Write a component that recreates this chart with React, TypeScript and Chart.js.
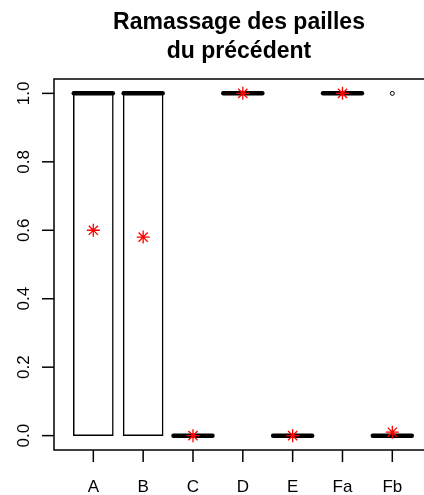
import { useEffect, useRef } from "react";
import { Chart, registerables } from "chart.js";

Chart.register(...registerables);

// Box plot summary per group (values are proportions between 0 and 1)
const groups = ["A", "B", "C", "D", "E", "Fa", "Fb"];
const lowerHinge = [0, 0, 0, 1, 0, 1, 0];
const upperHinge = [1, 1, 0, 1, 0, 1, 0];
const medians = [1, 1, 0, 1, 0, 1, 0];
const means = [0.6, 0.58, 0, 1, 0, 1, 0.01];
const outlierGroup = ["Fb"];
const outlierValue = [1];
const yTicks = [0, 0.2, 0.4, 0.6, 0.8, 1.0];
const yTickLabels = ["0.0", "0.2", "0.4", "0.6", "0.8", "1.0"];
const titleLines = ["Ramassage des pailles", "du précédent"];

const FONT = '"Liberation Sans", Arial, Helvetica, sans-serif';
const MEDIAN_DATASET = 1;

// Round ends on the thick median segments
const roundCapPlugin = {
  id: "roundCaps",
  beforeDatasetDraw(chart: any, args: any) {
    if (args.index === MEDIAN_DATASET) chart.ctx.lineCap = "round";
  },
  afterDatasetDraw(chart: any, args: any) {
    if (args.index === MEDIAN_DATASET) chart.ctx.lineCap = "butt";
  },
};

// Frame, tick marks and tick labels in the base-graphics style
const axesPlugin = {
  id: "baseAxes",
  afterDraw(chart: any) {
    const { ctx, chartArea } = chart;
    const xs = chart.scales.x;
    const ys = chart.scales.y;
    const { left, top, right, bottom } = chartArea;
    ctx.save();
    ctx.strokeStyle = "#000";
    ctx.lineWidth = 1.5;
    ctx.beginPath();
    ctx.moveTo(right + 2, top);
    ctx.lineTo(left, top);
    ctx.lineTo(left, bottom);
    ctx.lineTo(right + 2, bottom);
    ctx.stroke();

    ctx.fillStyle = "#000";
    ctx.font = `17px ${FONT}`;

    // y axis
    yTicks.forEach((v, i) => {
      const py = ys.getPixelForValue(v);
      ctx.beginPath();
      ctx.moveTo(left, py);
      ctx.lineTo(left - 12, py);
      ctx.stroke();
      ctx.save();
      ctx.translate(left - 30, py);
      ctx.rotate(-Math.PI / 2);
      ctx.textAlign = "center";
      ctx.textBaseline = "middle";
      ctx.fillText(yTickLabels[i], 0, 0);
      ctx.restore();
    });

    // x axis
    ctx.textAlign = "center";
    ctx.textBaseline = "middle";
    groups.forEach((g, i) => {
      const px = xs.getPixelForValue(i + 1);
      ctx.beginPath();
      ctx.moveTo(px, bottom);
      ctx.lineTo(px, bottom + 12);
      ctx.stroke();
      ctx.fillText(g, px, bottom + 37);
    });
    ctx.restore();
  },
};

export default function App() {
  const canvasRef = useRef<HTMLCanvasElement | null>(null);

  useEffect(() => {
    const canvas = canvasRef.current;
    if (!canvas) return;

    const boxData = groups.map((_, i) => ({ x: i + 1, y: [lowerHinge[i], upperHinge[i]] }));
    const medianData = groups.map((_, i) => ({ x: i + 1, y: medians[i] }));
    const meanData = groups.map((_, i) => ({ x: i + 1, y: means[i] }));
    const outlierData = outlierGroup.map((g, k) => ({ x: groups.indexOf(g) + 1, y: outlierValue[k] }));

    const chart = new Chart(canvas, {
      type: "bar",
      data: {
        datasets: [
          {
            type: "bar",
            data: boxData as any,
            backgroundColor: "#ffffff",
            borderColor: "#000000",
            borderWidth: 1.5,
            borderSkipped: false,
            barThickness: 40,
            order: 3,
          },
          {
            type: "scatter",
            data: medianData,
            pointStyle: "line",
            pointRadius: 19.5,
            borderWidth: 4.5,
            borderColor: "#000000",
            order: 2,
          },
          {
            type: "scatter",
            data: outlierData,
            pointStyle: "circle",
            pointRadius: 2,
            borderWidth: 1,
            borderColor: "#000000",
            backgroundColor: "rgba(0,0,0,0)",
            order: 1,
          },
          {
            type: "scatter",
            data: meanData,
            pointStyle: "star",
            pointRadius: 6.5,
            borderWidth: 1.3,
            borderColor: "#ff0000",
            order: 0,
          },
        ] as any,
      },
      options: {
        responsive: false,
        animation: false,
        devicePixelRatio: 1,
        layout: { autoPadding: false, padding: { left: 54, right: 0, top: 0, bottom: 45 } },
        scales: {
          x: { type: "linear", min: 0.211, max: 7.636, offset: false, display: false },
          y: { type: "linear", min: -0.042, max: 1.042, display: false },
        },
        plugins: {
          legend: { display: false },
          tooltip: { enabled: false },
          title: {
            display: true,
            text: titleLines,
            color: "#000",
            font: { family: FONT, size: 23, weight: "bold", lineHeight: 29 / 23 },
            padding: { top: 8.5, bottom: 12.5 },
          },
        },
      },
      plugins: [roundCapPlugin, axesPlugin],
    });

    return () => chart.destroy();
  }, []);

  return (
    <div style={{ position: "fixed", left: 0, top: 0, width: 424, height: 495, background: "#fff" }}>
      <canvas ref={canvasRef} width={424} height={495} style={{ display: "block" }} />
    </div>
  );
}
